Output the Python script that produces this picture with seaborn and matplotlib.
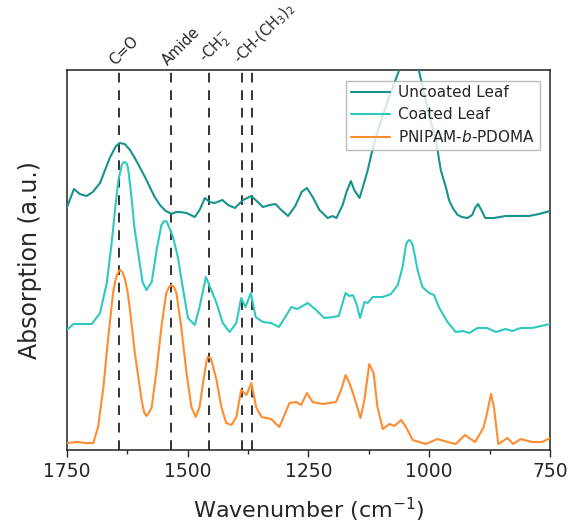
import matplotlib
matplotlib.use("Agg")
import matplotlib.pyplot as plt
import seaborn as sns
import pandas as pd

# FTIR spectra (values in a.u., offset per trace)
uncoated_wn = [1750, 1735, 1723, 1709, 1696, 1681, 1661, 1648, 1640, 1630, 1619, 1609, 1599, 1588,
               1578, 1568, 1557, 1545, 1533, 1524, 1516, 1502, 1485, 1475, 1464, 1454, 1444, 1428,
               1416, 1402, 1385, 1368, 1359, 1344, 1330, 1318, 1306, 1292, 1277, 1264, 1253, 1241,
               1227, 1210, 1200, 1192, 1179, 1171, 1162, 1155, 1144, 1136, 1127, 1120, 1110, 1099,
               1087, 1072, 1058, 1050, 1041, 1033, 1024, 1012, 1000, 986, 976, 965, 959, 950, 941,
               932, 921, 911, 905, 899, 892, 884, 866, 842, 818, 794, 773, 750]
uncoated_abs = [2.42, 2.61, 2.56, 2.54, 2.58, 2.67, 2.92, 3.04, 3.07, 3.06, 3.00, 2.92, 2.83, 2.73,
                2.63, 2.53, 2.45, 2.39, 2.36, 2.38, 2.38, 2.37, 2.33, 2.40, 2.52, 2.48, 2.47, 2.50,
                2.45, 2.42, 2.50, 2.54, 2.50, 2.43, 2.45, 2.46, 2.40, 2.34, 2.44, 2.58, 2.62, 2.53,
                2.40, 2.32, 2.34, 2.32, 2.45, 2.58, 2.69, 2.60, 2.52, 2.65, 2.80, 2.95, 3.13, 3.30,
                3.47, 3.67, 3.85, 4.00, 4.08, 4.00, 3.85, 3.60, 3.35, 3.10, 2.80, 2.62, 2.50, 2.41, 2.35,
                2.33, 2.32, 2.35, 2.42, 2.46, 2.40, 2.32, 2.32, 2.34, 2.34, 2.34, 2.36, 2.39]

coated_wn = [1750, 1736, 1716, 1698, 1681, 1667, 1657, 1650, 1643, 1636, 1633, 1630, 1626, 1623,
             1616, 1610, 1599, 1593, 1585, 1574, 1564, 1554, 1550, 1547, 1543, 1540, 1530, 1520,
             1509, 1499, 1485, 1475, 1462, 1451, 1440, 1427, 1413, 1399, 1389, 1380, 1369, 1359,
             1344, 1327, 1311, 1299, 1285, 1273, 1251, 1234, 1217, 1200, 1187, 1173, 1165, 1158,
             1151, 1143, 1134, 1127, 1117, 1096, 1079, 1065, 1055, 1048, 1045, 1041, 1038, 1034,
             1024, 1014, 1000, 990, 979, 962, 945, 930, 917, 900, 880, 862, 842, 828, 811, 787, 750]
coated_abs = [1.20, 1.26, 1.26, 1.26, 1.37, 1.67, 2.07, 2.40, 2.70, 2.85, 2.875, 2.88, 2.865, 2.82,
              2.53, 2.23, 1.87, 1.68, 1.60, 1.68, 2.00, 2.25, 2.28, 2.29, 2.285, 2.25, 2.13, 1.93,
              1.60, 1.32, 1.25, 1.43, 1.73, 1.60, 1.47, 1.27, 1.18, 1.27, 1.52, 1.43, 1.57, 1.33,
              1.28, 1.27, 1.23, 1.32, 1.43, 1.41, 1.47, 1.40, 1.32, 1.33, 1.34, 1.57, 1.54, 1.55,
              1.47, 1.32, 1.48, 1.47, 1.53, 1.53, 1.56, 1.65, 1.83, 2.05, 2.085, 2.10, 2.085, 2.05,
              1.80, 1.63, 1.57, 1.55, 1.42, 1.28, 1.18, 1.19, 1.17, 1.22, 1.22, 1.18, 1.21, 1.19,
              1.22, 1.22, 1.26]

polymer_wn = [1750, 1729, 1709, 1695, 1685, 1674, 1664, 1654, 1650, 1646, 1642, 1639, 1635, 1630,
              1624, 1619, 1609, 1595, 1590, 1585, 1580, 1574, 1564, 1554, 1544, 1538, 1533, 1528,
              1523, 1513, 1502, 1492, 1483, 1475, 1467, 1461, 1458, 1452, 1449, 1440, 1430, 1420,
              1409, 1399, 1389, 1378, 1368, 1358, 1347, 1327, 1310, 1289, 1275, 1265, 1253, 1241,
              1220, 1193, 1182, 1173, 1165, 1155, 1142, 1134, 1124, 1115, 1107, 1096, 1082, 1072,
              1058, 1048, 1034, 1007, 983, 962, 945, 926, 905, 888, 882, 872, 866, 857, 838, 826,
              811, 787, 766, 750]
polymer_abs = [0.07, 0.08, 0.07, 0.07, 0.23, 0.63, 1.13, 1.57, 1.68, 1.75, 1.79, 1.80, 1.78, 1.72,
               1.58, 1.40, 0.97, 0.50, 0.38, 0.34, 0.37, 0.43, 0.80, 1.23, 1.57, 1.63, 1.65, 1.63,
               1.57, 1.23, 0.77, 0.43, 0.33, 0.43, 0.70, 0.88, 0.93, 0.92, 0.87, 0.70, 0.43, 0.27,
               0.25, 0.33, 0.60, 0.55, 0.67, 0.43, 0.33, 0.31, 0.23, 0.47, 0.48, 0.45, 0.57, 0.48,
               0.46, 0.48, 0.60, 0.75, 0.67, 0.53, 0.32, 0.50, 0.86, 0.77, 0.43, 0.21, 0.26, 0.24,
               0.30, 0.23, 0.10, 0.06, 0.11, 0.08, 0.06, 0.15, 0.08, 0.22, 0.33, 0.56, 0.43, 0.06,
               0.12, 0.06, 0.11, 0.08, 0.08, 0.12]

series_labels = ["Uncoated Leaf", "Coated Leaf", "PNIPAM-$\\it{b}$-PDOMA"]
series_colors = ["#17938c", "#2ec9bf", "#ff8c2e"]

# band assignments (dashed guides) and their labels
band_wn = [1641, 1534, 1456, 1388, 1366]
band_labels = ["C=O", "Amide", "-CH$_2^{-}$", "-CH-(CH$_3$)$_2$"]
band_label_wn = [1645, 1537, 1454, 1386]

sns.set_style("ticks")
plt.rcParams['font.family'] = ['DejaVu Sans']

fig = plt.figure(figsize=(5.71, 5.24), dpi=100)
ax = fig.add_axes([0.1168, 0.1412, 0.8464, 0.7252])

for wn in band_wn:
    ax.axvline(wn, color="#333333", lw=1.4, ls=(0, (5, 4)), zorder=1)

data = [(uncoated_wn, uncoated_abs), (coated_wn, coated_abs), (polymer_wn, polymer_abs)]
for (x, y), lab, col in zip(data, series_labels, series_colors):
    df = pd.DataFrame({"wn": x, "a": y})
    sns.lineplot(data=df, x="wn", y="a", ax=ax, color=col, lw=1.5, label=lab, zorder=3)

ax.set_xlim(1750, 750)
ax.set_ylim(0, 3.8)
ax.set_xticks([1750, 1500, 1250, 1000, 750])
ax.set_xticks([1625, 1375, 1125, 875], minor=True)
ax.set_yticks([])
ax.tick_params(axis="x", which="major", length=5, width=1, labelsize=13.5, direction="out")
ax.tick_params(axis="x", which="minor", length=3, width=1, direction="out")
for s in ax.spines.values():
    s.set_linewidth(1.1)
    s.set_color("#222222")

ax.set_xlabel("Wavenumber (cm$^{-1}$)", fontsize=16, labelpad=11)
ax.set_ylabel("Absorption (a.u.)", fontsize=17, labelpad=18)

for lab, wn in zip(band_labels, band_label_wn):
    ax.text(wn, 1.006, lab, transform=ax.get_xaxis_transform(), rotation=45,
            rotation_mode="anchor", ha="left", va="bottom", fontsize=10.5)

leg = ax.legend(loc="upper right", bbox_to_anchor=(0.985, 0.98), fontsize=11,
                frameon=True, fancybox=False, edgecolor="#aaaaaa", handlelength=2.6,
                borderpad=0.3, labelspacing=0.45, handletextpad=0.5, borderaxespad=0.2)
leg.get_frame().set_linewidth(1.0)

fig.savefig("out.png", dpi=100)
